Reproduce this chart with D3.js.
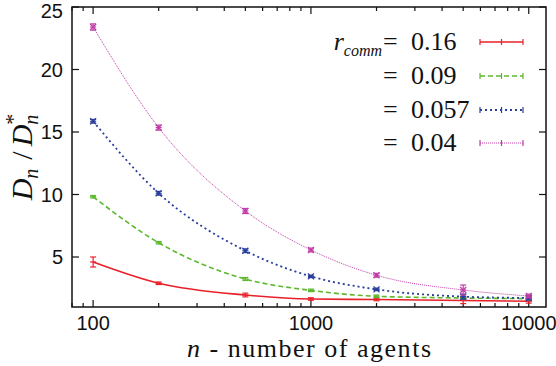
<!DOCTYPE html>
<html>
<head>
    <meta charset="utf-8">
    <style>
        body { margin: 0; background: white; }
        svg { display: block; }
    </style>
</head>
<body>
    <svg width="556" height="366"></svg>

<script src="https://d3js.org/d3.v7.min.js"></script>
<script>
    // values
    let agents = [100, 200, 500, 1000, 2000, 5000, 10000]
    let rcomm = ["0.16", "0.09", "0.057", "0.04"]
    let colors = ["#e8202a", "#5cb82e", "#2a3f9c", "#c03ca8"]
    let dashes = ["none", "5,3", "2,3", "1,1"]
    let widths = [1.6, 1.6, 1.8, 1.0]

    let ratio016 = [4.6, 2.9, 1.96, 1.64, 1.6, 1.52, 1.46]
    let ratio009 = [9.82, 6.14, 3.24, 2.33, 1.86, 1.72, 1.67]
    let ratio0057 = [15.86, 10.1, 5.5, 3.45, 2.41, 1.83, 1.72]
    let ratio004 = [23.4, 15.35, 8.68, 5.56, 3.54, 2.36, 1.88]

    let err016 = [0.4, 0.1, 0.15, 0.1, 0.1, 0.25, 0.15]
    let err009 = [0.1, 0.1, 0.12, 0.1, 0.1, 0.1, 0.1]
    let err0057 = [0.15, 0.15, 0.15, 0.1, 0.1, 0.2, 0.15]
    let err004 = [0.25, 0.2, 0.2, 0.15, 0.15, 0.4, 0.15]

    let yTicks = [5, 10, 15, 20, 25]
    let xTicks = [100, 1000, 10000]

    let series = [
        { r: rcomm[0], vals: ratio016, errs: err016 },
        { r: rcomm[1], vals: ratio009, errs: err009 },
        { r: rcomm[2], vals: ratio0057, errs: err0057 },
        { r: rcomm[3], vals: ratio004, errs: err004 },
    ]

    let SANS = "Liberation Sans"
    let SERIF = "Liberation Serif"

    let width = 556, height = 366
    let margin = { top: 7, right: 10, bottom: 59, left: 72 }

    let svg = d3.select("svg")

    let x = d3.scaleLog()
        .domain([80, 12000])
        .range([margin.left, width - margin.right])

    let y = d3.scaleLinear()
        .domain([1, 25])
        .range([height - margin.bottom, margin.top])

    let x0 = x.range()[0], x1 = x.range()[1]
    let y0 = y.range()[0], y1 = y.range()[1]

    // log ticks (inward, bottom + top)
    x.ticks().filter(t => t >= 80 && t <= 12000).forEach(t => {
        let len = xTicks.includes(t) ? 7 : 4
        svg.append("line").attr("x1", x(t)).attr("x2", x(t)).attr("y1", y0).attr("y2", y0 - len)
            .style("stroke", "#111").style("stroke-width", 1.2)
        svg.append("line").attr("x1", x(t)).attr("x2", x(t)).attr("y1", y1).attr("y2", y1 + len)
            .style("stroke", "#111").style("stroke-width", 1.2)
    })

    yTicks.forEach(t => {
        svg.append("line").attr("x1", x0).attr("x2", x0 + 7).attr("y1", y(t)).attr("y2", y(t))
            .style("stroke", "#111").style("stroke-width", 1.2)
        svg.append("line").attr("x1", x1).attr("x2", x1 - 7).attr("y1", y(t)).attr("y2", y(t))
            .style("stroke", "#111").style("stroke-width", 1.2)
    })

    // tick labels (top one nudged down so it stays inside the page)
    svg.selectAll(".ylab")
        .data(yTicks)
        .join("text")
        .attr("x", x0 - 9)
        .attr("y", d => Math.max(y(d) + 7, 18))
        .attr("text-anchor", "end")
        .attr("font-family", SANS)
        .attr("font-size", 20)
        .attr("fill", "#111")
        .text(d => d)

    svg.selectAll(".xlab")
        .data(xTicks)
        .join("text")
        .attr("x", d => x(d))
        .attr("y", 330)
        .attr("text-anchor", "middle")
        .attr("font-family", SANS)
        .attr("font-size", 20)
        .attr("fill", "#111")
        .text(d => d)

    // frame
    svg.append("rect")
        .attr("x", x0).attr("y", y1)
        .attr("width", x1 - x0).attr("height", y0 - y1)
        .style("fill", "none").style("stroke", "#111").style("stroke-width", 1.5)

    let line = d3.line()
        .x(d => x(d[0]))
        .y(d => y(d[1]))
        .curve(d3.curveMonotoneX)

    series.forEach((s, i) => {
        let pts = agents.map((a, j) => [a, s.vals[j], s.errs[j]])
        svg.append("path")
            .datum(pts)
            .attr("d", line)
            .style("fill", "none")
            .style("stroke", colors[i])
            .style("stroke-width", widths[i])
            .style("stroke-dasharray", dashes[i])

        let g = svg.append("g").style("stroke", colors[i]).style("stroke-width", 1.2)
        pts.forEach(p => {
            let cx = x(p[0]), top = y(p[1] + p[2]), bot = y(p[1] - p[2])
            g.append("line").attr("x1", cx).attr("x2", cx).attr("y1", top).attr("y2", bot)
            g.append("line").attr("x1", cx - 3).attr("x2", cx + 3).attr("y1", top).attr("y2", top)
            g.append("line").attr("x1", cx - 3).attr("x2", cx + 3).attr("y1", bot).attr("y2", bot)
            g.append("line").attr("x1", cx - 3).attr("x2", cx + 3).attr("y1", y(p[1])).attr("y2", y(p[1]))
            if (i >= 2) {
                g.append("line").attr("x1", cx - 3).attr("x2", cx + 3).attr("y1", y(p[1]) - 3).attr("y2", y(p[1]) + 3)
                g.append("line").attr("x1", cx - 3).attr("x2", cx + 3).attr("y1", y(p[1]) + 3).attr("y2", y(p[1]) - 3)
            }
        })
    })

    // legend
    let legY = [42, 76, 110, 143]
    series.forEach((s, i) => {
        let ly = legY[i]
        svg.append("text")
            .attr("x", 383).attr("y", ly + 8)
            .attr("font-family", SERIF).attr("font-size", 26).attr("fill", "#111")
            .text("=")
        svg.append("text")
            .attr("x", 411).attr("y", ly + 8)
            .attr("font-family", SERIF).attr("font-size", 26).attr("fill", "#111")
            .text(s.r)

        let g = svg.append("g").style("stroke", colors[i])
        g.append("line").attr("x1", 480).attr("x2", 523).attr("y1", ly).attr("y2", ly)
            .style("stroke-width", widths[i]).style("stroke-dasharray", dashes[i])
        ;[480, 501.5, 523].forEach(lx => {
            g.append("line").attr("x1", lx).attr("x2", lx).attr("y1", ly - 3).attr("y2", ly + 3)
                .style("stroke-width", 1.2)
        })
    })

    let rl = svg.append("text")
        .attr("x", 382).attr("y", legY[0] + 8)
        .attr("text-anchor", "end")
        .attr("font-family", SERIF).attr("font-size", 26).attr("fill", "#111")
        .attr("font-style", "italic")
    rl.append("tspan").text("r")
    rl.append("tspan").attr("dy", 6).attr("font-size", 16).text("comm")

    // axis titles
    let xl = svg.append("text")
        .attr("x", 187).attr("y", 357)
        .attr("textLength", 244)
        .attr("lengthAdjust", "spacing")
        .attr("font-family", SERIF).attr("font-size", 26).attr("fill", "#111")
    xl.append("tspan").attr("font-style", "italic").text("n")
    xl.append("tspan").text(" - number of agents")

    let yl = svg.append("text")
        .attr("transform", "translate(32," + ((y0 + y1) / 2) + ") rotate(-90)")
        .attr("text-anchor", "middle")
        .attr("font-family", SERIF).attr("font-size", 30).attr("fill", "#111")
        .attr("font-style", "italic")
    yl.append("tspan").text("D")
    yl.append("tspan").attr("dy", 6).attr("font-size", 20).text("n")
    yl.append("tspan").attr("dy", -6).attr("dx", 9).attr("font-style", "normal").text("/")
    yl.append("tspan").attr("dx", 5).text("D")
    yl.append("tspan").attr("dy", 6).attr("font-size", 20).text("n")
    yl.append("tspan").attr("dy", -18).attr("dx", -10).attr("font-size", 22).attr("font-style", "normal").text("*")
</script>
</body>
</html>
